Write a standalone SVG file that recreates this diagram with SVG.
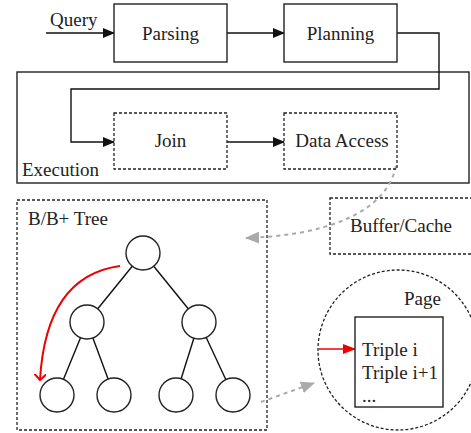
<svg xmlns="http://www.w3.org/2000/svg" width="471" height="433" viewBox="0 0 471 433">
<defs>
<style>
text{font-family:"Liberation Serif","Times New Roman",serif;font-size:19px;fill:#222}
.box{fill:#fff;stroke:#222;stroke-width:1.4}
.dbox{fill:none;stroke:#222;stroke-width:1.3;stroke-dasharray:3 2}
.ln{fill:none;stroke:#111;stroke-width:1.4}
.node{fill:#fff;stroke:#222;stroke-width:1.4}
.gray{fill:none;stroke:#aaa;stroke-width:2;stroke-dasharray:4 4}
</style>
<marker id="ah" markerWidth="12" markerHeight="10" refX="11" refY="5" orient="auto" markerUnits="userSpaceOnUse"><path d="M0,0 L12,5 L0,10 Z" fill="#111"/></marker>
<marker id="ahg" markerWidth="14" markerHeight="12" refX="13" refY="6" orient="auto" markerUnits="userSpaceOnUse"><path d="M0,0 L14,6 L0,12 Z" fill="#aaa"/></marker>
<marker id="ahr" markerWidth="13" markerHeight="10" refX="12" refY="5" orient="auto" markerUnits="userSpaceOnUse"><path d="M0,0 L13,5 L0,10 Z" fill="#e00"/></marker>
<marker id="ahv" markerWidth="12" markerHeight="12" refX="6" refY="6" orient="auto" markerUnits="userSpaceOnUse"><path d="M0,0 L6,6 L0,12" fill="none" stroke="#e00" stroke-width="2"/></marker>
</defs>

<g id="execution">
<rect class="box" x="17" y="72" width="452" height="111" fill="none"/>
<text x="22" y="176">Execution</text>
</g>

<g id="connectors">
<line class="ln" x1="46" y1="33" x2="114" y2="33" marker-end="url(#ah)"/>
<line class="ln" x1="227" y1="33" x2="284" y2="33" marker-end="url(#ah)"/>
<polyline class="ln" points="397,33 439,33 439,89 71,89 71,142 114,142" marker-end="url(#ah)"/>
<line class="ln" x1="227" y1="142" x2="284" y2="142" marker-end="url(#ah)"/>
<path class="gray" d="M396,166 C386,215 320,236 246,238" marker-end="url(#ahg)"/>
<path class="gray" d="M261,402 L314,383" marker-end="url(#ahg)"/>
<line x1="319" y1="349" x2="355" y2="349" stroke="#e00" stroke-width="1.6" marker-end="url(#ahr)"/>
</g>

<g id="query"><text x="50" y="26">Query</text></g>

<g id="parsing">
<rect class="box" x="114" y="4" width="113" height="58"/>
<text x="170.5" y="40" text-anchor="middle">Parsing</text>
</g>

<g id="planning">
<rect class="box" x="284" y="4" width="113" height="58"/>
<text x="340.5" y="40" text-anchor="middle">Planning</text>
</g>

<g id="join">
<rect class="dbox" x="114" y="113" width="113" height="56"/>
<text x="170.5" y="147" text-anchor="middle">Join</text>
</g>

<g id="data-access">
<rect class="dbox" x="284" y="113" width="113" height="56"/>
<text x="342" y="147" text-anchor="middle">Data Access</text>
</g>

<g id="buffer-cache">
<rect class="dbox" x="330" y="198" width="145" height="56"/>
<text x="401" y="232" text-anchor="middle">Buffer/Cache</text>
</g>

<g id="tree">
<rect class="dbox" x="17" y="200" width="250" height="230"/>
<text x="28" y="225">B/B+ Tree</text>
<g class="ln">
<line x1="143" y1="253" x2="87" y2="322"/>
<line x1="143" y1="253" x2="199" y2="322"/>
<line x1="87" y1="322" x2="57" y2="395"/>
<line x1="87" y1="322" x2="114" y2="395"/>
<line x1="199" y1="322" x2="176" y2="395"/>
<line x1="199" y1="322" x2="233" y2="395"/>
</g>
<circle class="node" cx="143" cy="253" r="17"/>
<circle class="node" cx="87" cy="322" r="17"/>
<circle class="node" cx="199" cy="322" r="17"/>
<circle class="node" cx="57" cy="395" r="17"/>
<circle class="node" cx="114" cy="395" r="17"/>
<circle class="node" cx="176" cy="395" r="17"/>
<circle class="node" cx="233" cy="395" r="17"/>
<path d="M120,266 Q46,276 40,380" fill="none" stroke="#e00" stroke-width="2" marker-end="url(#ahv)"/>
</g>

<g id="page">
<circle cx="398" cy="350" r="80" fill="none" stroke="#222" stroke-width="1.3" stroke-dasharray="3 2"/>
<text x="404" y="305">Page</text>
<rect class="box" x="355" y="317" width="88" height="90"/>
<text x="362" y="356">Triple i</text>
<text x="362" y="379">Triple i+1</text>
<text x="362" y="402">...</text>
</g>
</svg>
